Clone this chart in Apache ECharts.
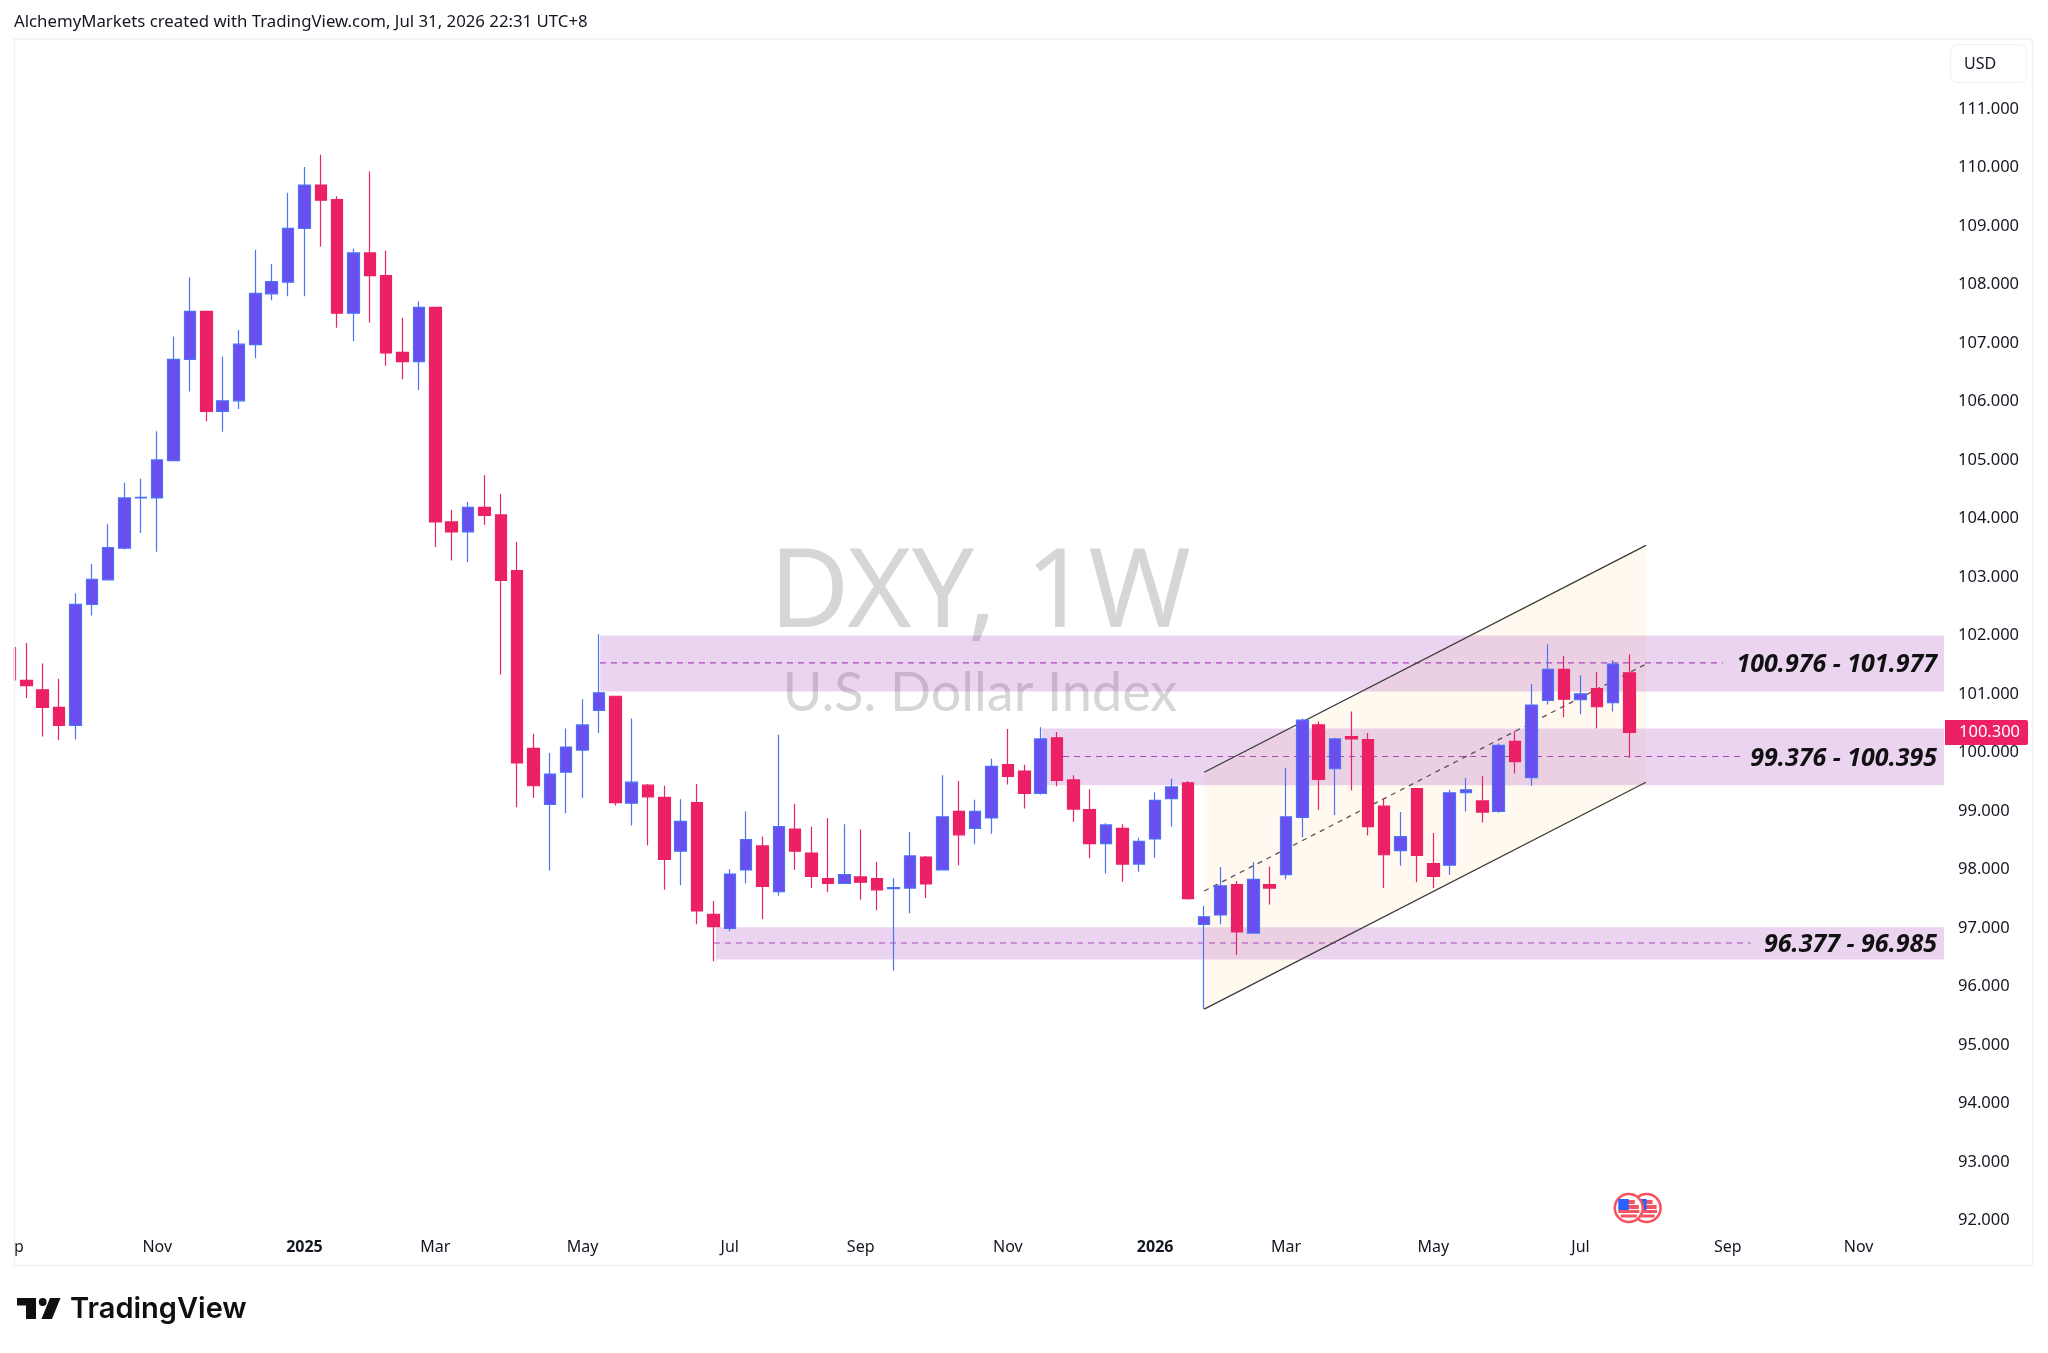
<!DOCTYPE html>
<html><head><meta charset="utf-8">
<style>html,body{margin:0;padding:0;background:#fff}#c{width:2048px;height:1353px}</style>
<script src="https://cdn.jsdelivr.net/npm/echarts@6/dist/echarts.min.js"></script>
</head><body><div id="c"></div>
<script>
const FONT = '"Noto Sans", sans-serif';
const WM = 'Lato, sans-serif';
// weekly candles, index 0 = week of 2 Sep 2024
const opens  = [101.75,101.19,101.03,100.73,100.42,102.49,102.91,103.45,104.31,104.31,104.95,106.68,107.50,105.79,105.97,106.93,107.80,108.00,108.92,109.66,109.41,107.47,108.50,108.11,106.80,106.64,107.57,103.90,103.73,104.15,104.02,103.07,100.03,99.07,99.62,100.00,100.68,100.92,99.09,99.40,99.19,98.27,99.10,97.19,96.95,97.95,98.36,97.58,98.65,98.24,97.80,97.72,97.83,97.80,97.63,97.64,98.17,97.95,98.95,98.66,98.84,99.75,99.64,99.26,100.21,99.49,98.98,98.40,98.66,98.05,98.48,99.17,99.44,97.02,97.18,97.70,96.87,97.70,97.87,98.85,100.43,99.68,100.23,100.18,99.04,98.28,99.34,98.06,98.03,99.27,99.13,98.95,100.15,99.53,100.85,101.38,100.86,101.05,100.81,101.32];
const closes = [101.20,101.10,100.73,100.42,102.49,102.92,103.46,104.31,104.32,104.96,106.68,107.50,105.79,105.97,106.94,107.81,108.01,108.92,109.66,109.40,107.47,108.50,108.11,106.79,106.64,107.57,103.90,103.73,104.15,104.01,102.90,99.78,99.39,99.59,100.05,100.43,100.98,99.10,99.45,99.20,98.13,98.78,97.25,96.98,97.88,98.47,97.67,98.69,98.27,97.84,97.72,97.87,97.74,97.61,97.65,98.19,97.71,98.86,98.55,98.95,99.72,99.55,99.26,100.19,99.48,98.99,98.40,98.72,98.05,98.44,99.14,99.37,97.46,97.15,97.68,96.89,97.79,97.64,98.86,100.51,99.50,100.19,100.19,98.69,98.21,98.52,98.20,97.84,99.27,99.32,98.94,100.08,99.80,100.77,101.38,100.87,100.96,100.74,101.47,100.30];
const lows   = [101.00,100.89,100.23,100.17,100.18,102.30,102.91,103.43,103.71,103.39,104.95,106.13,105.62,105.44,105.83,106.70,107.69,107.76,107.76,108.61,107.22,106.99,107.31,106.57,106.34,106.15,103.47,103.24,103.21,103.85,101.29,99.02,99.18,97.94,98.92,99.18,100.29,99.05,98.71,98.37,97.61,97.69,97.02,96.39,96.90,97.72,97.11,97.51,97.95,97.64,97.57,97.71,97.44,97.26,96.23,97.21,97.47,97.95,98.03,98.39,98.57,99.41,99.00,99.24,99.38,98.77,98.15,97.89,97.75,97.92,98.16,98.69,97.44,95.57,97.02,96.50,96.87,97.36,97.79,98.51,98.98,98.89,99.31,98.54,97.64,98.02,97.74,97.64,97.87,98.95,98.76,98.93,99.60,99.39,100.78,100.56,100.61,100.37,100.66,99.87];
const highs  = [102.00,101.83,101.48,101.22,102.68,103.18,103.86,104.57,104.64,105.45,107.07,108.08,107.50,106.73,107.18,108.55,108.31,109.53,109.97,110.18,109.47,108.57,109.89,108.54,107.39,107.67,107.57,104.11,104.24,104.70,104.38,103.56,100.28,99.95,100.37,100.87,101.98,100.92,100.54,99.42,99.39,99.16,99.42,97.42,97.96,98.95,98.52,100.26,99.08,98.69,98.84,98.73,98.64,98.09,97.81,98.60,98.19,99.57,99.47,99.15,99.85,100.36,99.75,100.39,100.31,99.57,99.33,98.75,98.73,98.50,99.28,99.51,99.47,97.34,98.00,97.76,98.08,98.01,99.69,100.54,100.49,100.21,100.66,100.29,99.18,98.94,99.34,98.58,99.32,99.52,99.55,100.11,100.32,101.13,101.81,101.61,101.28,101.33,101.54,101.64];

const priceTicks = [92,93,94,95,96,97,98,99,100,101,102,103,104,105,106,107,108,109,110,111];
const timeLabels = ['p','Nov','2025','Mar','May','Jul','Sep','Nov','2026','Mar','May','Jul','Sep','Nov'];
const timeTicks  = [0.55,9,18,26,35,44,52,61,70,78,87,96,105,113];

const xMin = 0.246, xMax = 118.22, yMin = 91.76, yMax = 112.174;

// zones: [start week, low, high]
const zoneStarts = [36.08, 63.1, 43.15];
const zoneLows   = [101.0, 99.40, 96.42];
const zoneHighs  = [101.96, 100.37, 96.97];
// zone mid lines: [start week, end week, price]
const midStarts = [36.06, 64.37, 43.03];
const midEnds   = [104.7, 105.75, 106.4];
const midPrices = [101.49, 99.89, 96.70];
const zoneTexts = ['100.976 - 101.977','99.376 - 100.395','96.377 - 96.985'];
const zoneTextX = 117.8;

// rising channel
const chanWeeks = [73, 100];
const chanUpper = [99.62, 103.50];
const chanMid   = [97.59, 101.47];
const chanLower = [95.57, 99.45];

const lastPrice = 100.30;

const candleData = opens.map((o,i)=>[i,o,closes[i],lows[i],highs[i]]);

function flag(cx, cy){
  const r = 15.2, red='#F7525F', blue='#2962FF';
  const els = [{type:'circle',z:1,shape:{cx,cy,r:r-1.2},style:{fill:'#fff',stroke:red,lineWidth:2.6}}];
  const stripes = [[-8,4,6],[-3,4,10],[2,3,10.5],[6.5,3,8]];
  stripes.forEach(s=>{ const hw=s[2];
    els.push({type:'rect',z:1,shape:{x:cx-hw,y:cy+s[0],width:hw*2,height:s[1]},style:{fill:red}}); });
  els.push({type:'rect',z:1,shape:{x:cx-10.5,y:cy-9,width:10.5,height:11},style:{fill:blue}});
  return els;
}

const graphics = [
  {type:'rect',z:100,shape:{x:0,y:600,width:13.8,height:120},style:{fill:'#fff'}},
  {type:'rect',z:101,shape:{x:14.5,y:39,width:2018,height:1226.5},style:{fill:'none',stroke:'#EFF1F4',lineWidth:1.4}},
  {type:'text',z:-4,style:{x:980,y:596,text:'DXY, 1W',fill:'#D6D6D6',font:'110px '+FONT,textAlign:'center',textVerticalAlign:'middle'}},
  {type:'text',z:-4,style:{x:980,y:694,text:'U.S. Dollar Index',fill:'#D6D6D6',font:'54px '+WM,textAlign:'center',textVerticalAlign:'middle'}},
  {type:'text',style:{x:14,y:22.5,text:'AlchemyMarkets created with TradingView.com, Jul 31, 2026 22:31 UTC+8',fill:'#131722',font:'16.8px '+FONT,textVerticalAlign:'middle'}},
  {type:'rect',shape:{x:1950.5,y:44.5,width:76,height:38,r:7},style:{fill:'#fff',stroke:'#F0F1F3',lineWidth:1.2}},
  {type:'text',style:{x:1964,y:64,text:'USD',fill:'#131722',font:'16px '+FONT,textVerticalAlign:'middle'}},
  {type:'polygon',shape:{points:[[17,1298],[36,1298],[36,1319],[26,1319],[26,1305.5],[17,1305.5]]},style:{fill:'#0F0F0F'}},
  {type:'circle',shape:{cx:42.7,cy:1302,r:3.9},style:{fill:'#0F0F0F'}},
  {type:'polygon',shape:{points:[[50,1298],[60.5,1298],[52,1319],[41.5,1319]]},style:{fill:'#0F0F0F'}},
  {type:'text',style:{x:70,y:1309.5,text:'TradingView',fill:'#0F0F0F',font:'600 29px Inter, sans-serif',textVerticalAlign:'middle'}},
  ...flag(1646.6,1208),
  ...flag(1628.8,1208)
];

const bands = zoneStarts.map((s,i)=>[s,zoneLows[i],zoneHighs[i]]);
const midSeries = midPrices.map((p,i)=>({
  type:'line',z:3,symbol:'none',silent:true,animation:false,
  data:[[midStarts[i],p],[midEnds[i],p]],
  lineStyle:{color:'#AB47BC',width:1.1,type:[6,5]}
}));
const chanLine = (ys,dash)=>({
  type:'line',z:3,symbol:'none',silent:true,animation:false,
  data:[[chanWeeks[0],ys[0]],[chanWeeks[1],ys[1]]],
  lineStyle:{color:dash?'#555':'#3A3A3A',width:1.3,type:dash?[5,5]:'solid'}
});

const option = {
  animation:false,
  backgroundColor:'#fff',
  textStyle:{fontFamily:FONT},
  grid:{left:14,top:38,width:1930,height:1194,containLabel:false},
  xAxis:{type:'value',min:xMin,max:xMax,splitLine:{show:false},axisLine:{show:false},axisTick:{show:false},
    axisLabel:{customValues:timeTicks,margin:7,fontSize:16,color:'#131722',fontFamily:FONT,hideOverlap:false,
      formatter:(v)=>{const t=timeLabels[timeTicks.indexOf(v)]; return /^\d/.test(t)?'{b|'+t+'}':t;},
      rich:{b:{fontWeight:'bold',fontSize:16,color:'#131722',fontFamily:FONT}}}},
  yAxis:{type:'value',position:'right',min:yMin,max:yMax,splitLine:{show:false},axisLine:{show:false},axisTick:{show:false},
    axisLabel:{customValues:priceTicks,margin:14,color:'#131722',fontFamily:FONT,
      formatter:v=>'{a|'+v.toFixed(3)+'}',
      rich:{a:{fontSize:16.5,color:'#131722',fontFamily:FONT,padding:[5,0,0,0]}}}},
  graphic:{elements:graphics},
  series:[
    {type:'custom',z:1,silent:true,animation:false,clip:true,
      data:[[chanWeeks[0],chanUpper[0],chanLower[0],chanWeeks[1],chanUpper[1],chanLower[1]]],
      encode:{x:[0,3],y:[1,2,4,5]},
      renderItem:(p,api)=>{const a=api.coord([api.value(0),api.value(1)]),b=api.coord([api.value(3),api.value(4)]),
        c=api.coord([api.value(3),api.value(5)]),d=api.coord([api.value(0),api.value(2)]);
        return {type:'polygon',shape:{points:[a,b,c,d]},style:{fill:'rgba(255,167,38,0.07)'}};}},
    {type:'custom',z:2,silent:true,animation:false,clip:true,
      data:bands,encode:{x:0,y:[1,2]},
      renderItem:(p,api)=>{const a=api.coord([api.value(0),api.value(2)]),b=api.coord([xMax,api.value(1)]);
        return {type:'rect',shape:{x:a[0],y:a[1],width:b[0]-a[0],height:b[1]-a[1]},style:{fill:'rgba(156,39,176,0.2)'}};}},
    ...midSeries,
    chanLine(chanUpper,false),chanLine(chanLower,false),chanLine(chanMid,true),
    {type:'candlestick',z:4,silent:true,animation:false,clip:true,barWidth:12,data:candleData,
      itemStyle:{color:'#6A4FEF',color0:'#EC2065',borderColor:'#4C72F8',borderColor0:'#EC2065',borderWidth:1.2}},
    {type:'scatter',z:5,silent:true,animation:false,symbolSize:0,itemStyle:{opacity:1},
      data:midPrices.map((p,i)=>({value:[zoneTextX,p],name:zoneTexts[i]})),
      label:{show:true,position:'left',distance:0,offset:[0,2],formatter:'{b}',fontSize:25,fontWeight:'bold',fontStyle:'italic',color:'#111',fontFamily:FONT}},
    {type:'scatter',z:6,zlevel:1,silent:true,animation:false,symbolSize:0,clip:false,itemStyle:{opacity:1},
      data:[[xMax,lastPrice]],
      label:{show:true,position:'right',distance:1,formatter:p=>p.value[1].toFixed(3),fontSize:16.5,color:'#fff',backgroundColor:'#EC2065',opacity:1,
        padding:[4,8,4,14],borderRadius:[0,2,2,0],fontFamily:FONT}}
  ]
};
const chart = echarts.init(document.getElementById('c'),null,{renderer:'canvas',width:2048,height:1353});
chart.setOption(option);
</script></body></html>
